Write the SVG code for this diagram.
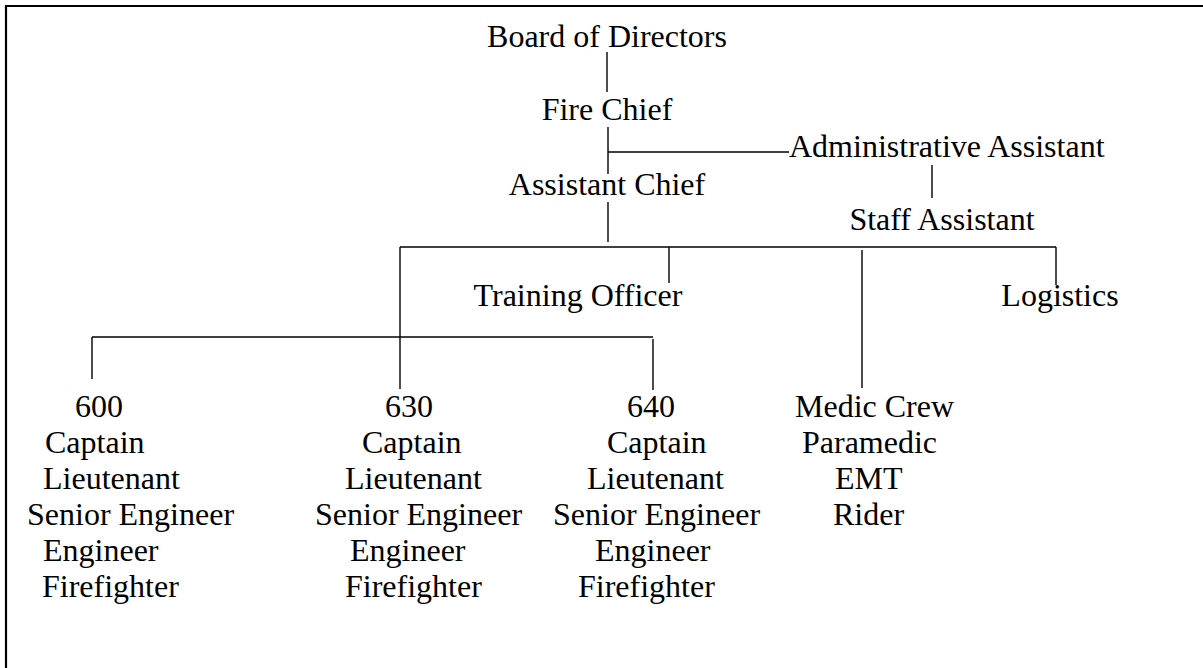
<svg xmlns="http://www.w3.org/2000/svg" width="1203" height="668" viewBox="0 0 1203 668">
<style>
text{font-family:"Liberation Serif","Times New Roman",serif;font-size:32px;fill:#000}
.c{text-anchor:middle}
.ln{stroke:#000;stroke-width:1.4;fill:none}
.bd{stroke:#000;stroke-width:2.2;fill:none}
</style>
<rect x="0" y="0" width="1203" height="668" fill="#fff"/>
<path class="bd" d="M6,668 V6 H1203"/>
<g id="connectors">
<path class="ln" d="M607,52 V92"/>
<path class="ln" d="M608,127 V174"/>
<path class="ln" d="M608,152 H789"/>
<path class="ln" d="M932,165 V198"/>
<path class="ln" d="M608,202 V242"/>
<path class="ln" d="M400,247 H1056"/>
<path class="ln" d="M400,247 V389"/>
<path class="ln" d="M669,247 V283"/>
<path class="ln" d="M862,250 V388"/>
<path class="ln" d="M1056,247 V285"/>
<path class="ln" d="M92,337 H653"/>
<path class="ln" d="M92,337 V379"/>
<path class="ln" d="M653,339 V390"/>
</g>
<g id="board"><text class="c" x="607" y="47">Board of Directors</text></g>
<g id="firechief"><text class="c" x="607" y="120">Fire Chief</text></g>
<g id="admin"><text x="789" y="157">Administrative Assistant</text></g>
<g id="asstchief"><text class="c" x="607" y="195">Assistant Chief</text></g>
<g id="staff"><text class="c" x="942" y="230">Staff Assistant</text></g>
<g id="training"><text class="c" x="578" y="306">Training Officer</text></g>
<g id="logistics"><text class="c" x="1060" y="306">Logistics</text></g>
<g id="s600">
<text x="75" y="417">600</text>
<text x="45" y="453">Captain</text>
<text x="43" y="489">Lieutenant</text>
<text x="27" y="525">Senior Engineer</text>
<text x="43" y="561">Engineer</text>
<text x="42" y="597">Firefighter</text>
</g>
<g id="s630">
<text x="385" y="417">630</text>
<text x="362" y="453">Captain</text>
<text x="345" y="489">Lieutenant</text>
<text x="315" y="525">Senior Engineer</text>
<text x="350" y="561">Engineer</text>
<text x="345" y="597">Firefighter</text>
</g>
<g id="s640">
<text x="627" y="417">640</text>
<text x="607" y="453">Captain</text>
<text x="587" y="489">Lieutenant</text>
<text x="553" y="525">Senior Engineer</text>
<text x="595" y="561">Engineer</text>
<text x="578" y="597">Firefighter</text>
</g>
<g id="medic">
<text x="795" y="417">Medic Crew</text>
<text x="802" y="453">Paramedic</text>
<text x="835" y="489">EMT</text>
<text x="833" y="525">Rider</text>
</g>
</svg>
